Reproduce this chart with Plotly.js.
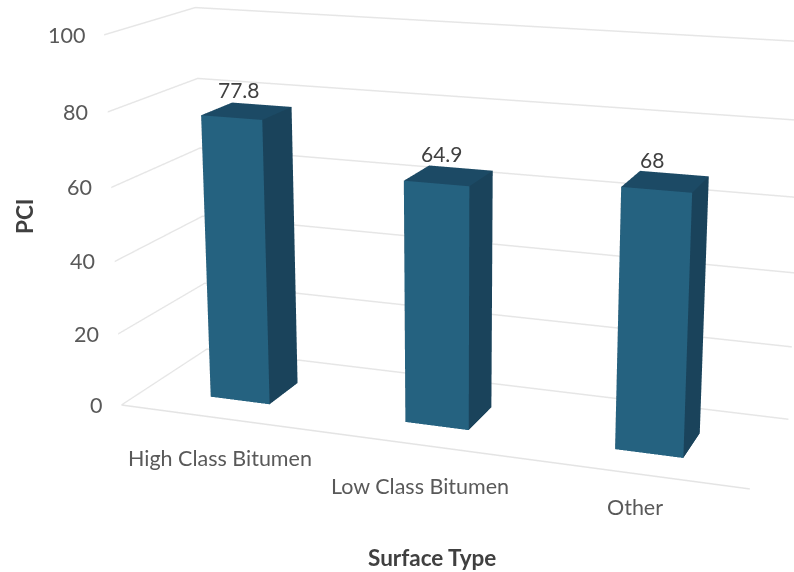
<!DOCTYPE html>
<html><head><meta charset="utf-8"><script src="https://cdn.plot.ly/plotly-3.0.1.min.js"></script>
<style>html,body{margin:0;padding:0;background:#fff;overflow:hidden;width:794px;height:572px}#c{position:absolute}</style></head>
<body><div id="c"></div><script>
const categories=["High Class Bitumen","Low Class Bitumen","Other"];
const values=[77.8,64.9,68];
const valueLabels=["77.8","64.9","68"];
const zTicks=[0,20,40,60,80,100];
const W=2223,H=1602,LEFT=-660,TOP_=-571;
const el=document.getElementById("c");el.style.left=LEFT+"px";el.style.top=TOP_+"px";
const barHalfW=0.155, yLo=0.225, yHi=0.588, yMid=0.4, yFront=-0.055, yBack=0.95;
const catShiftX=[-1,-2,-3], catShiftY=[-43.5,-45.5,-37.5], valShiftX=[-7,-6,-13];
const FRONT="#256280",SIDE="#1a435b",TOP="#1c4a65";
let X=[],Y=[],Z=[],I=[],J=[],K=[],FC=[];
values.forEach((v,n)=>{
 const a=n+0.5-barHalfW,b=n+0.5+barHalfW,o=X.length;
 [[a,yLo,0],[b,yLo,0],[b,yHi,0],[a,yHi,0],[a,yLo,v],[b,yLo,v],[b,yHi,v],[a,yHi,v]].forEach(p=>{X.push(p[0]);Y.push(p[1]);Z.push(p[2]);});
 [[0,1,5,FRONT],[0,5,4,FRONT],[1,2,6,SIDE],[1,6,5,SIDE],[4,5,6,TOP],[4,6,7,TOP],[3,2,6,SIDE],[3,6,7,SIDE],[0,3,7,SIDE],[0,7,4,SIDE]].forEach(f=>{I.push(o+f[0]);J.push(o+f[1]);K.push(o+f[2]);FC.push(f[3]);});
});
const F='Lato,"Open Sans",sans-serif';
const font={family:F,size:21.5,color:"#595959"};
const vfont={family:F,size:21,color:"#404040"};
const bfont={family:F,size:22.5,color:"#404040"};
const anns=[];
zTicks.forEach(t=>anns.push({x:0,y:yFront+0.005,z:t,text:String(t),showarrow:false,xanchor:"right",xshift:-18,font}));
values.forEach((v,n)=>anns.push({x:n+0.5,y:yMid,z:v,text:valueLabels[n],showarrow:false,xshift:valShiftX[n],yshift:22,font:vfont}));
categories.forEach((c,n)=>anns.push({x:n+0.5,y:0,z:0,text:c,showarrow:false,xshift:catShiftX[n],yshift:catShiftY[n],font}));
const data=[{type:"mesh3d",x:X,y:Y,z:Z,i:I,j:J,k:K,facecolor:FC,flatshading:true,hoverinfo:"skip",
 lighting:{ambient:1,diffuse:0,specular:0,fresnel:0,roughness:1}},
 {type:"scatter3d",mode:"lines",x:[0,3],y:[yFront,yFront],z:[0,0],line:{color:"#e4e4e4",width:3},hoverinfo:"skip",showlegend:false}];
const ax={showgrid:false,zeroline:false,showticklabels:false,ticks:"",showline:false,showbackground:false,showspikes:false,title:{text:""}};
const px=x=>(x-LEFT)/W, py=y=>1-(y-TOP_)/H;
const layout={width:W,height:H,margin:{l:0,r:0,t:0,b:0},paper_bgcolor:"#fff",showlegend:false,
 scene:{domain:{x:[0,1],y:[0,1]},aspectmode:"manual",aspectratio:{x:2.04,y:0.603,z:1.2},
  camera:{eye:{x:1.98,y:-5.45,z:1.55},center:{x:0,y:0,z:0},up:{x:0,y:0,z:1},projection:{type:"perspective"}},
  xaxis:{...ax,range:[0,3]},yaxis:{...ax,range:[yFront,yBack]},
  zaxis:{...ax,range:[0,100],tickvals:zTicks,showgrid:true,gridcolor:"#e6e6e6",gridwidth:3},annotations:anns},
 annotations:[
  {xref:"paper",yref:"paper",x:px(432),y:py(557),xanchor:"center",yanchor:"middle",text:"<b>Surface Type</b>",showarrow:false,font:bfont},
  {xref:"paper",yref:"paper",x:px(24),y:py(217),xanchor:"center",yanchor:"middle",text:"<b>PCI</b>",textangle:-90,showarrow:false,font:bfont}]};
Plotly.newPlot("c",data,layout,{displayModeBar:false});
</script></body></html>
